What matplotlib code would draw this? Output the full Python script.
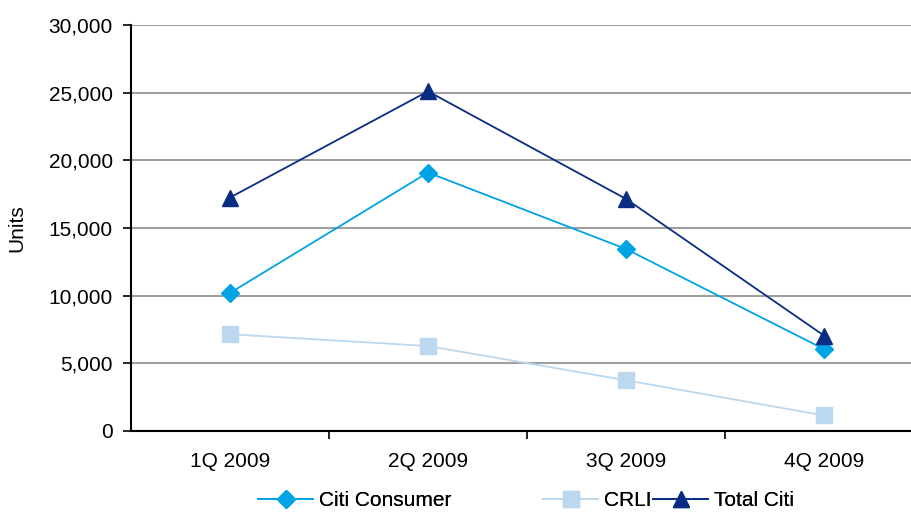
import matplotlib
matplotlib.use("Agg")
import matplotlib.pyplot as plt

categories = ["1Q 2009", "2Q 2009", "3Q 2009", "4Q 2009"]
citi_consumer = [10200, 19100, 13450, 6050]
crli = [7150, 6280, 3750, 1150]
total_citi = [17250, 25100, 17150, 7050]
y_ticks = [0, 5000, 10000, 15000, 20000, 25000, 30000]

plt.rcParams['font.family'] = ['Liberation Sans', 'DejaVu Sans']

fig = plt.figure(figsize=(9.12, 5.14), dpi=100)
W, H = 912, 514
left, right, top, bottom = 131, 912, 25, 431
ax = fig.add_axes([left / W, 1 - bottom / H, (right - left) / W, (bottom - top) / H])

x = list(range(len(categories)))
c_cons = "#00a3e4"
c_crli = "#bcd8ee"
c_tot = "#0a2d83"

FS = 15

l1, = ax.plot(x, citi_consumer, color=c_cons, lw=1.3, marker="D", ms=9, label="Citi Consumer", zorder=3)
l2, = ax.plot(x, crli, color=c_crli, lw=1.3, marker="s", ms=11, label="CRLI", zorder=3)
l3, = ax.plot(x, total_citi, color=c_tot, lw=1.3, marker="^", ms=12, label="Total Citi", zorder=4)

ax.set_ylim(0, 30000)
ax.set_xlim(-0.5, -0.5 + (right - left) / 198)
ax.set_yticks(y_ticks)
ax.set_yticklabels([f"{v:,}" for v in y_ticks], fontsize=FS)
ax.yaxis.grid(True, color="#a0a0a0", lw=1.5)
ax.set_axisbelow(True)

ax.set_xticks([0.5, 1.5, 2.5])
ax.set_xticklabels([])
ax.tick_params(axis="x", length=6, width=1.2, direction="out")
ax.tick_params(axis="y", length=6, width=1.2, direction="out", pad=7)
for i, c in enumerate(categories):
    ax.text(i, -0.052, c, transform=ax.get_xaxis_transform(), ha="center", va="top", fontsize=FS)

for s in ["top", "right"]:
    ax.spines[s].set_visible(False)
for s in ["left", "bottom"]:
    ax.spines[s].set_linewidth(1.5)

fig.text(17 / W, 1 - 228 / H, "Units", rotation=90, ha="center", va="center", fontsize=FS)

ly = 1 - 501 / H
for handle, xpos in [(l1, 258), (l2, 543), (l3, 653)]:
    leg = fig.legend(handles=[handle], loc="center left", bbox_to_anchor=(xpos / W, ly),
                     frameon=False, fontsize=FS, handlelength=2.65, handletextpad=0.3,
                     borderaxespad=0, borderpad=0)
    fig.add_artist(leg)

fig.savefig("out.png", dpi=100)
